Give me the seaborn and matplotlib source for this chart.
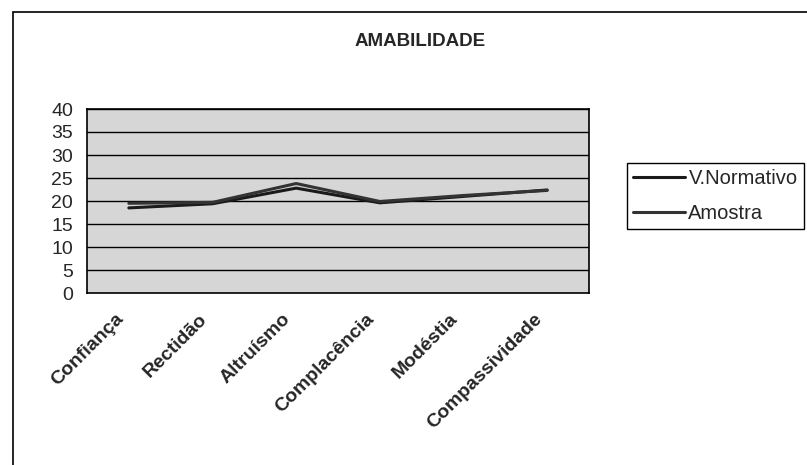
import matplotlib
matplotlib.use("Agg")
import matplotlib.pyplot as plt
import matplotlib.transforms as mtransforms
import seaborn as sns
import pandas as pd
from matplotlib.patches import Rectangle

categories = ["Confiança", "Rectidão", "Altruísmo", "Complacência", "Modéstia", "Compassividade"]
v_normativo = [18.5, 19.4, 22.8, 19.6, 21.0, 22.4]
amostra = [19.5, 19.7, 23.8, 19.9, 21.2, 22.3]
series_names = ["V.Normativo", "Amostra"]
yticks = [0, 5, 10, 15, 20, 25, 30, 35, 40]
title = "AMABILIDADE"

sns.set_theme(style="white")
plt.rcParams['font.family'] = ['Liberation Sans', 'DejaVu Sans']

df = pd.DataFrame({
    "pos": list(range(len(categories))) * 2,
    "value": v_normativo + amostra,
    "series": [series_names[0]] * len(categories) + [series_names[1]] * len(categories),
})

fig = plt.figure(figsize=(8.07, 4.65), dpi=100)
ax = fig.add_axes([87/807, 172/465, 502/807, 184/465])
ax.set_facecolor("#d6d6d6")

sns.lineplot(data=df, x="pos", y="value", hue="series",
             palette=["#1a1a1a", "#333333"], linewidth=2.2, ax=ax, legend=True)

ax.set_xlim(-0.5, len(categories) - 0.5)
ax.set_ylim(0, 40)
ax.set_yticks(yticks)
ax.set_yticklabels([str(t) for t in yticks], fontsize=14)
for t in yticks[1:]:
    ax.axhline(t, color="black", lw=1.0, zorder=1)

ax.set_xticks(range(len(categories)))
ax.set_xticklabels(categories, rotation=45, ha="right", rotation_mode="anchor",
                   fontsize=14, fontweight="bold")
ax.tick_params(axis="x", which="major", length=0, pad=14)
offset = mtransforms.ScaledTranslation(-14/100, 2/100, fig.dpi_scale_trans)
for lbl in ax.get_xticklabels():
    lbl.set_transform(lbl.get_transform() + offset)
ax.set_xticks([i - 0.5 for i in range(len(categories) + 1)], minor=True)
ax.tick_params(axis="x", which="minor", length=5, width=1, color="black", direction="out")
ax.tick_params(axis="y", length=6, width=1, color="black", direction="out", pad=4)
ax.set_xlabel("")
ax.set_ylabel("")
for s in ax.spines.values():
    s.set_color("black")
    s.set_linewidth(1.2)

handles, labels = ax.get_legend_handles_labels()
ax.legend(handles, labels, loc="center left", bbox_to_anchor=(627/807, 1 - 196/465),
          bbox_transform=fig.transFigure, fontsize=14.5, frameon=True, fancybox=False,
          edgecolor="black", framealpha=1, borderpad=0.3, handlelength=2.6,
          handletextpad=0.15, labelspacing=0.75, borderaxespad=0)

fig.text(420/807, 1 - 42/465, title, ha="center", va="center", fontsize=13.5, fontweight="bold")
fig.patches.append(Rectangle((13/807, -0.02), 1.0, (465 - 12)/465 + 0.02,
                             transform=fig.transFigure, fill=False, edgecolor="black", lw=1.2))

fig.savefig("out.png", dpi=100, facecolor="white")
